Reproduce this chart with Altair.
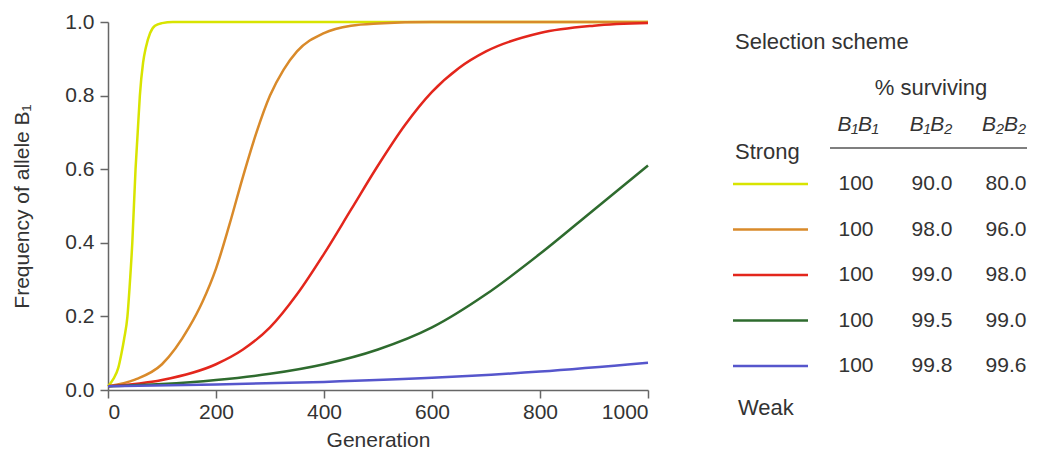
import altair as alt
import pandas as pd

# ---------------- data ----------------
yellow_gen = [0, 10, 19, 25, 30, 36, 40, 45, 51, 55, 59, 65, 70, 78, 87, 100, 120, 200, 400, 600, 800, 1000]
yellow_frq = [0.01, 0.03, 0.06, 0.10, 0.14, 0.20, 0.28, 0.40, 0.60, 0.70, 0.80, 0.89, 0.93, 0.97, 0.99, 0.997, 1.0, 1.0, 1.0, 1.0, 1.0, 1.0]

orange_gen = [0, 50, 100, 150, 175, 200, 225, 250, 275, 300, 325, 350, 400, 450, 500, 600, 800, 1000]
orange_frq = [0.01, 0.028, 0.07, 0.17, 0.24, 0.33, 0.45, 0.58, 0.70, 0.80, 0.87, 0.92, 0.97, 0.99, 0.996, 1.0, 1.0, 1.0]

red_gen = [0, 100, 200, 250, 300, 350, 400, 450, 500, 550, 600, 650, 700, 800, 900, 1000]
red_frq = [0.01, 0.027, 0.07, 0.11, 0.17, 0.26, 0.37, 0.49, 0.61, 0.72, 0.81, 0.875, 0.92, 0.97, 0.99, 0.997]

green_gen = [0, 100, 200, 300, 400, 500, 600, 700, 800, 900, 1000]
green_frq = [0.01, 0.016, 0.027, 0.044, 0.07, 0.11, 0.17, 0.26, 0.37, 0.49, 0.61]

blue_gen = [0, 200, 400, 600, 800, 1000]
blue_frq = [0.01, 0.015, 0.022, 0.033, 0.05, 0.074]

schemes = ["s1", "s2", "s3", "s4", "s5"]
colors = ["#d8e400", "#d98a2a", "#e3261c", "#2e6b2e", "#5656cc"]
b11 = ["100", "100", "100", "100", "100"]
b12 = ["90.0", "98.0", "99.0", "99.5", "99.8"]
b22 = ["80.0", "96.0", "98.0", "99.0", "99.6"]

x_ticks = [0, 200, 400, 600, 800, 1000]
y_ticks = [0.0, 0.2, 0.4, 0.6, 0.8, 1.0]

# ---------------- tables ----------------
series = [(yellow_gen, yellow_frq), (orange_gen, orange_frq), (red_gen, red_frq),
          (green_gen, green_frq), (blue_gen, blue_frq)]
rows = []
for i, (g, f) in enumerate(series):
    for gg, ff in zip(g, f):
        rows.append({"scheme": schemes[i], "order": 4 - i, "gen": gg, "freq": ff})
curves = pd.DataFrame(rows)

legend = pd.DataFrame({"row": list(range(5)), "scheme": schemes, "b11": b11, "b12": b12, "b22": b22})

FONT = "Liberation Sans"
W, H = 540, 368

color_scale = alt.Scale(domain=schemes, range=colors)

lines = alt.Chart(curves).mark_line(strokeWidth=2.5, interpolate="monotone").encode(
    x=alt.X("gen:Q", scale=alt.Scale(domain=[0, 1000], nice=False),
            axis=alt.Axis(values=x_ticks, format="d", title="Generation",
                          titleY=50, titleBaseline="middle")),
    y=alt.Y("freq:Q", scale=alt.Scale(domain=[0, 1], nice=False),
            axis=alt.Axis(values=y_ticks, format=".1f", title="Frequency of allele B₁",
                          titleX=-86, titleY=H / 2, titleBaseline="middle", titleAngle=270)),
    color=alt.Color("scheme:N", scale=color_scale, legend=None),
    detail="order:O",
    order=alt.Order("order:Q"),
)

row_y = alt.Y("row:O", scale=alt.Scale(type="point", domain=list(range(5)), range=[162, 344], padding=0), axis=None)

swatch = alt.Chart(legend).mark_rule(strokeWidth=2.5).encode(
    x=alt.value(625), x2=alt.value(700), y=row_y,
    color=alt.Color("scheme:N", scale=color_scale, legend=None),
)

def col_text(field, xpos):
    return alt.Chart(legend).mark_text(font=FONT, fontSize=21, color="#333", align="center",
                                       baseline="middle").encode(
        x=alt.value(xpos), y=row_y, text=f"{field}:N")

one = pd.DataFrame({"a": [0]})

def label(txt, xpos, ypos, align="left", italic=False, size=22):
    kw = dict(font=FONT, fontSize=size, color="#333", align=align, baseline="middle", text=txt)
    if italic:
        kw["fontStyle"] = "italic"
    return alt.Chart(one).mark_text(**kw).encode(x=alt.value(xpos), y=alt.value(ypos))

underline = alt.Chart(one).mark_rule(color="#555", strokeWidth=1.5).encode(
    x=alt.value(722), x2=alt.value(919), y=alt.value(126))

chart = alt.layer(
    lines,
    swatch,
    col_text("b11", 748), col_text("b12", 824), col_text("b22", 898),
    label("Selection scheme", 627, 20),
    label("% surviving", 823, 66, align="center"),
    label("B₁B₁", 750, 103, align="center", italic=True, size=21),
    label("B₁B₂", 823, 103, align="center", italic=True, size=21),
    label("B₂B₂", 896, 103, align="center", italic=True, size=21),
    label("Strong", 627, 130),
    label("Weak", 630, 386),
    underline,
).resolve_scale(y="independent").properties(
    width=W, height=H,
    autosize=alt.AutoSizeParams(type="none"),
    padding={"left": 100, "top": 14, "right": 380, "bottom": 62},
).configure_view(stroke=None).configure_axis(
    labelFont=FONT, titleFont=FONT, labelFontSize=21, titleFontSize=21,
    labelColor="#333", titleColor="#333", titleFontWeight="normal",
    domainColor="#666", tickColor="#666", domainWidth=1.5, tickWidth=1.5,
    tickSize=8, grid=False,
).configure_axisX(labelPadding=3).configure_axisY(labelPadding=6)

chart.save("out.html", embed_options={"renderer": "svg", "actions": False})
